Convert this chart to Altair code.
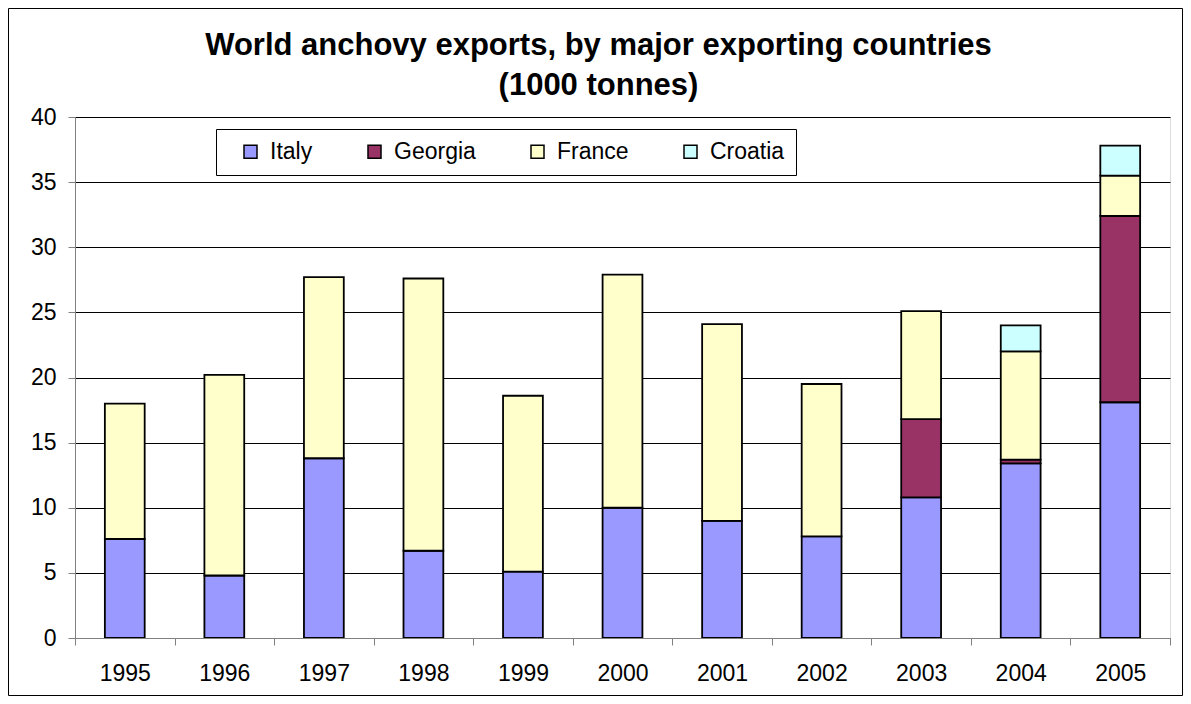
import altair as alt
import pandas as pd

years = ["1995", "1996", "1997", "1998", "1999", "2000", "2001", "2002", "2003", "2004", "2005"]
countries = ["Italy", "Georgia", "France", "Croatia"]
colors = ["#9999FF", "#993366", "#FFFFCC", "#CCFFFF"]

italy = [7.6, 4.8, 13.8, 6.7, 5.1, 10.0, 9.0, 7.8, 10.8, 13.4, 18.1]
georgia = [0, 0, 0, 0, 0, 0, 0, 0, 6.0, 0.3, 14.3]
france = [10.4, 15.4, 13.9, 20.9, 13.5, 17.9, 15.1, 11.7, 8.3, 8.3, 3.1]
croatia = [0, 0, 0, 0, 0, 0, 0, 0, 0, 2.0, 2.3]

series = {"Italy": italy, "Georgia": georgia, "France": france, "Croatia": croatia}
rows = []
for ci, c in enumerate(countries):
    for y, v in zip(years, series[c]):
        if v > 0:
            rows.append({"year": y, "country": c, "value": v, "order": ci})
df = pd.DataFrame(rows)

FONT = "Liberation Sans, Arial"
W, H = 1095, 521
PAD = {"left": 67, "top": 109, "right": 13, "bottom": 58}

bars = alt.Chart(df).mark_bar(
    width=alt.RelativeBandSize(0.4), stroke="#000", strokeWidth=1.8
).encode(
    x=alt.X("year:N", sort=years, title=None,
            scale=alt.Scale(paddingInner=0, paddingOuter=0),
            axis=alt.Axis(tickBand="extent", labelAngle=0, labelFontSize=23,
                          labelColor="#000", labelPadding=17, tickSize=7,
                          tickColor="#808080", domainColor="#808080",
                          grid=False, labelFont=FONT, zindex=1)),
    y=alt.Y("value:Q", stack="zero", title=None,
            scale=alt.Scale(domain=[0, 40], nice=False),
            axis=alt.Axis(values=[0, 5, 10, 15, 20, 25, 30, 35, 40],
                          labelFontSize=23, labelColor="#000", labelPadding=12,
                          tickSize=7, tickColor="#808080", domainColor="#808080",
                          gridColor="#000", gridWidth=1, labelFont=FONT)),
    color=alt.Color("country:N", sort=countries,
                    scale=alt.Scale(domain=countries, range=colors),
                    legend=alt.Legend(orient="none", legendX=141, legendY=12,
                                      direction="horizontal", columns=4,
                                      columnPadding=50, symbolType="square",
                                      symbolSize=169, symbolStrokeWidth=1.5,
                                      symbolStrokeColor="#000", labelFontSize=23,
                                      labelFont=FONT, labelColor="#000",
                                      labelOffset=8, padding=11,
                                      strokeColor="#000", fillColor="#fff",
                                      title=" ", titleOrient="left",
                                      titleFontSize=23, titlePadding=12)),
    order=alt.Order("order:Q"),
)

border = alt.Chart(pd.DataFrame({"a": [0]})).mark_rect(
    fill=None, stroke="#000", strokeWidth=1
).encode(
    x=alt.value(-PAD["left"] + 0.5),
    x2=alt.value(W + PAD["right"] - 0.5),
    y=alt.value(-PAD["top"] + 0.5),
    y2=alt.value(H + PAD["bottom"] - 0.5),
)

chart = alt.layer(bars, border).properties(
    width=W, height=H,
    autosize=alt.AutoSizeParams(type="none"),
    padding=PAD,
    title=alt.TitleParams(
        ["World anchovy exports, by major exporting countries", "(1000 tonnes)"],
        fontSize=31, fontWeight="bold", font=FONT, color="#000",
        anchor="middle", dx=-24, offset=-125, lineHeight=40, baseline="bottom",
    ),
).configure_view(stroke=None).configure(background="#fff")

chart.save("out.html", embed_options={"renderer": "svg", "actions": False})
